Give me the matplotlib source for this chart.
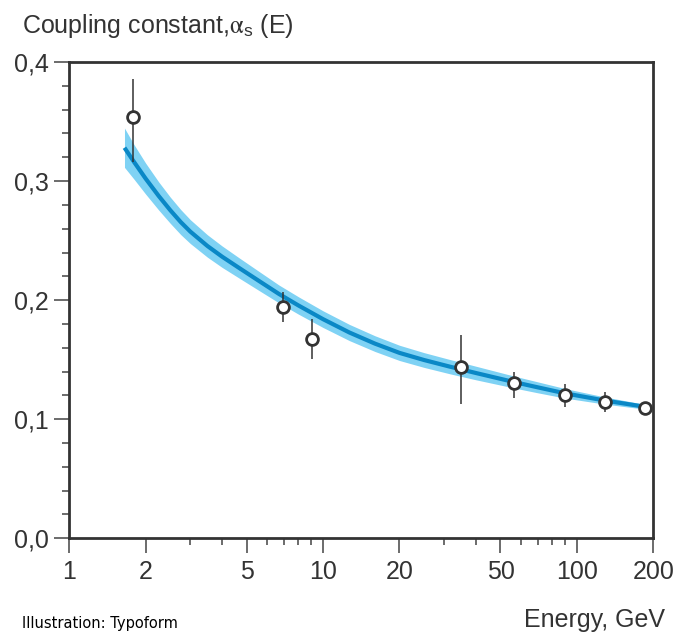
import numpy as np
import matplotlib
matplotlib.use("Agg")
import matplotlib.pyplot as plt

plt.rcParams['font.family'] = ['Liberation Sans', 'DejaVu Sans']
plt.rcParams['mathtext.fontset'] = 'stix'

# measured points (energy in GeV, alpha_s, error bar ends)
energy = [1.78, 6.93, 9.06, 35.0, 56.6, 90.0, 128.7, 185.0]
alpha = [0.3534, 0.1946, 0.1672, 0.1437, 0.1303, 0.1202, 0.1148, 0.1092]
err_top = [0.3857, 0.2072, 0.1840, 0.1708, 0.1395, 0.1297, 0.1232, 0.1092]
err_bot = [0.3156, 0.1820, 0.1507, 0.1129, 0.1176, 0.1101, 0.1059, 0.1092]

# theory curve, with half width of the band
curve_e = [1.65, 1.8, 2.0, 2.25, 2.5, 2.75, 3.0, 3.5, 4.0, 4.67, 5.6, 6.7, 8.0,
           10, 12.7, 16, 20, 25, 31.5, 40, 56.6, 70, 90, 128.7, 185]
curve_a = [0.328, 0.316, 0.302, 0.2875, 0.2755, 0.2655, 0.2575, 0.2455, 0.2365,
           0.2270, 0.2160, 0.2052, 0.1955, 0.1840, 0.1728, 0.1635, 0.1557, 0.1497,
           0.1442, 0.1388, 0.1312, 0.1268, 0.1217, 0.1157, 0.1105]
band_hw = [0.0165, 0.0145, 0.013, 0.0118, 0.011, 0.0105, 0.0100, 0.0094, 0.009,
           0.0085, 0.008, 0.0075, 0.0073, 0.0070, 0.0068, 0.0066, 0.0064, 0.0062,
           0.006, 0.0057, 0.005, 0.0046, 0.004, 0.003, 0.002]

x_major = [1, 2, 5, 10, 20, 50, 100, 200]
x_minor = [3, 4, 6, 7, 8, 9, 30, 40, 60, 70, 80, 90]
y_major = [0.0, 0.1, 0.2, 0.3, 0.4]
y_labels = ['0,0', '0,1', '0,2', '0,3', '0,4']

dark = '#333333'

fig = plt.figure(figsize=(6.76, 6.35), dpi=100)
ax = fig.add_axes([0.1025, 0.1523, 0.8639, 0.7501])

ca = np.array(curve_a)
hw = np.array(band_hw)
ax.fill_between(curve_e, ca - hw, ca + hw, color='#7fd2f4', lw=0, zorder=1)
ax.plot(curve_e, curve_a, color='#0a88c6', lw=3, solid_capstyle='butt', zorder=2)

a = np.array(alpha)
yerr = [a - np.array(err_bot), np.array(err_top) - a]
ax.errorbar(energy, alpha, yerr=yerr, fmt='o', color=dark, ecolor=dark, elinewidth=1.1,
            capsize=0, ms=8.5, mfc='white', mec=dark, mew=2.0, zorder=3, clip_on=False)

ax.set_xscale('log')
ax.set_xlim(1, 200)
ax.set_ylim(0, 0.4)
ax.set_xticks(x_major)
ax.set_xticklabels([str(v) for v in x_major])
ax.set_xticks(x_minor, minor=True)
ax.set_xticklabels([], minor=True)
ax.set_yticks(y_major)
ax.set_yticklabels(y_labels)
ax.set_yticks([v / 100 for v in range(0, 41, 2) if v % 10 != 0], minor=True)

for s in ax.spines.values():
    s.set_color(dark)
    s.set_linewidth(2.0)
ax.tick_params(which='major', length=11, width=1.1, color='#444444', labelsize=18,
               labelcolor='#333333')
ax.tick_params(which='minor', length=5.2, width=1.1, color='#444444')
ax.tick_params(axis='x', which='major', pad=4.5)
ax.tick_params(axis='y', which='major', pad=3.6)

fig.text(22 / 676, 0.9475, r'Coupling constant,$\mathrm{\alpha}_{\mathregular{s}}$ (E)',
         fontsize=18, color='#333333', ha='left', va='baseline')
fig.text(665 / 676, 0.0131, 'Energy, GeV', fontsize=18, color='#333333', ha='right',
         va='baseline')
fig.text(22 / 676, 0.0106, 'Illustration: Typoform', fontsize=10.5, color='black',
         family='DejaVu Sans', ha='left', va='baseline')

fig.savefig('out.png', dpi=100)
